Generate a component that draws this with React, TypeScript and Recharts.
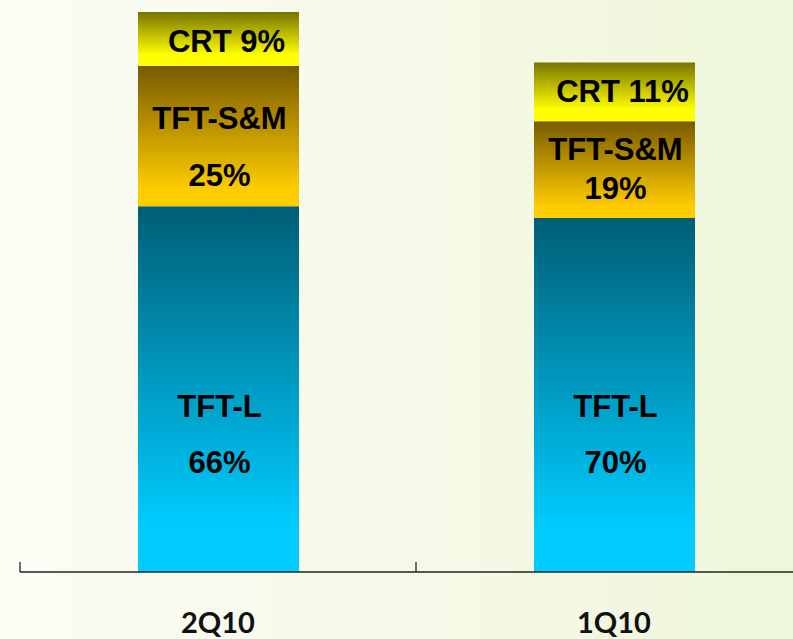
import React from 'react';
import { BarChart, Bar, XAxis, YAxis, LabelList } from 'recharts';

const categories = ['2Q10', '1Q10'];
const tftL = [65.3, 63.2];
const tftSM = [25.1, 17.3];
const crt = [9.6, 10.5];
const tftLPct = ['66%', '70%'];
const tftSMPct = ['25%', '19%'];
const crtPct = ['9%', '11%'];

const data = categories.map((name, i) => ({
  name,
  tftL: tftL[i],
  tftSM: tftSM[i],
  crt: crt[i],
}));

const CHART_W = 812;
const CHART_H = 639;
const MARGIN = { top: 12, right: 0, left: 20, bottom: 0 };
const PLOT_W = CHART_W - MARGIN.left - MARGIN.right;
const BAND = PLOT_W / categories.length;

const labelFont = {
  fontFamily: '"Liberation Sans", Arial, sans-serif',
  fontWeight: 700,
  fontSize: 31,
  fill: '#000',
};

const num = (v: any) => Number(v) || 0;

const TftLLabel = (props: any) => {
  const x = num(props.x), y = num(props.y), w = num(props.width), h = num(props.height);
  const i = props.index ?? 0;
  const cx = x + w / 2;
  const bottom = y + h;
  return (
    <g>
      <text x={cx + 1} y={bottom - 155} textAnchor="middle" {...labelFont}>TFT-L</text>
      <text x={cx + 1} y={bottom - 99} textAnchor="middle" {...labelFont}>{tftLPct[i]}</text>
    </g>
  );
};

const TftSMLabel = (props: any) => {
  const x = num(props.x), y = num(props.y), w = num(props.width), h = num(props.height);
  const i = props.index ?? 0;
  const cx = x + w / 2;
  return (
    <g>
      <text x={cx + 1} y={y + 0.568 * h - 16.5} textAnchor="middle" {...labelFont}>TFT-S&amp;M</text>
      <text x={cx + 1} y={y + 0.977 * h - 17} textAnchor="middle" {...labelFont}>{tftSMPct[i]}</text>
    </g>
  );
};

const CrtLabel = (props: any) => {
  const x = num(props.x), y = num(props.y), w = num(props.width);
  const i = props.index ?? 0;
  const cx = x + w / 2;
  return (
    <text x={cx + 8} y={y + 40} textAnchor="middle" {...labelFont}>{`CRT ${crtPct[i]}`}</text>
  );
};

const AxisTick = (props: any) => {
  const x = num(props.x), y = num(props.y);
  const left = x - BAND / 2;
  return (
    <g>
      <line x1={left} y1={y} x2={left} y2={y - 10} stroke="#222" strokeWidth={1.3} />
      <text
        x={x}
        y={y + 61}
        textAnchor="middle"
        fontFamily="Lato, 'Open Sans', sans-serif"
        fontWeight={700}
        fontSize={29}
        fill="#111"
      >
        {props.payload?.value}
      </text>
    </g>
  );
};

export default function App() {
  return (
    <div
      style={{
        position: 'fixed',
        left: 0,
        top: 0,
        width: 793,
        height: 639,
        overflow: 'hidden',
        background: 'linear-gradient(90deg, #FBFCF4 0%, #F6F9E8 50%, #EEF7D9 100%)',
      }}
    >
      <BarChart width={CHART_W} height={CHART_H} data={data} margin={MARGIN} barSize={161}>
        <defs>
          <linearGradient id="gTftL" x1="0" y1="0" x2="0" y2="1">
            <stop offset="0%" stopColor="#005E76" />
            <stop offset="88%" stopColor="#00CCFF" />
            <stop offset="100%" stopColor="#00CCFF" />
          </linearGradient>
          <linearGradient id="gTftSM" x1="0" y1="0" x2="0" y2="1">
            <stop offset="0%" stopColor="#785A00" />
            <stop offset="88%" stopColor="#FFCC00" />
            <stop offset="100%" stopColor="#FFCC00" />
          </linearGradient>
          <linearGradient id="gCrt" x1="0" y1="0" x2="0" y2="1">
            <stop offset="0%" stopColor="#787400" />
            <stop offset="80%" stopColor="#FFFF00" />
            <stop offset="100%" stopColor="#FFFF00" />
          </linearGradient>
        </defs>
        <XAxis
          dataKey="name"
          height={67}
          interval={0}
          tickLine={false}
          tickSize={0}
          tickMargin={0}
          axisLine={{ stroke: '#222', strokeWidth: 1.3 }}
          tick={<AxisTick />}
        />
        <YAxis hide domain={[0, 100]} />
        <Bar dataKey="tftL" stackId="a" fill="url(#gTftL)" isAnimationActive={false}>
          <LabelList dataKey="tftL" content={<TftLLabel />} />
        </Bar>
        <Bar dataKey="tftSM" stackId="a" fill="url(#gTftSM)" isAnimationActive={false}>
          <LabelList dataKey="tftSM" content={<TftSMLabel />} />
        </Bar>
        <Bar dataKey="crt" stackId="a" fill="url(#gCrt)" isAnimationActive={false}>
          <LabelList dataKey="crt" content={<CrtLabel />} />
        </Bar>
      </BarChart>
    </div>
  );
}
